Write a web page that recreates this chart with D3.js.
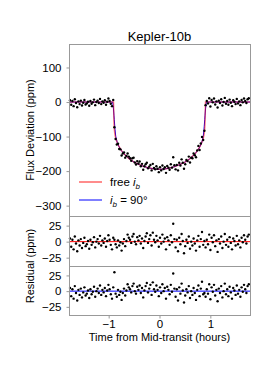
<!DOCTYPE html>
<html>
<head>
<title>Kepler-10b</title>
<script src="https://d3js.org/d3.v7.min.js"></script>
<style>
  body { margin: 0; background: #fff; }
  text { font-family: "Liberation Sans", Arial, sans-serif; fill: #000; }
</style>
</head>
<body>
<div id="chart"></div>
<script>
// sampling grid (hours from mid-transit)
var tStart = -1.76, cadence = 0.0236, nPts = 150;
var times = d3.range(nPts).map(i => tStart + i * cadence);

// observed flux deviation (ppm)
var flux = [5, -8, 3, -12, 8, -3, -15, 2, -6, 4, -10, -2, 6, -7, -4, 1, -11, 3, -5, -1,
  7, -9, 0, 4, -3, 9, -6, 2, -2, 5, -8, 1, 10, 3, -5, -12, 6, -73, -107, -123,
  -121, -136, -137, -155, -149, -146, -161, -156, -149, -158, -163, -170, -163, -161, -175, -181, -171, -178, -172, -186,
  -179, -196, -186, -180, -176, -192, -187, -182, -198, -179, -191, -195, -186, -193, -203, -189, -198, -184, -194, -189,
  -205, -185, -190, -196, -180, -190, -160, -183, -195, -182, -198, -176, -184, -166, -176, -193, -180, -168, -171, -158,
  -175, -161, -163, -149, -154, -160, -140, -127, -139, -120, -101, -110, -83, -9, 3, -4, 11, -13, 6, -1,
  10, -7, 2, -16, 4, -3, 8, -10, 0, 12, -5, 3, -8, 7, -2, -12, 5, 1, -6, 9,
  -4, 2, -9, 6, -1, 10, 3, -3, 8, 11];

// residuals against the free-inclination model (ppm)
var residFree = [5, -8, 3, -12, 8, -3, -15, 2, -6, 4, -10, -2, 6, -7, -4, 1, -11, 3, -5, -1,
  7, -9, 0, 4, -3, 9, -6, 2, -2, 5, -8, 1, 10, 3, -5, -12, 6, 3, -4, -9,
  2, -6, -1, -14, -3, 4, -7, 1, 11, 6, 3, -2, 8, 12, 0, -4, 7, 2, 9, -3,
  5, -10, 1, 8, 13, -2, 4, 10, -6, 14, 3, -1, 9, 2, -8, 6, -3, 11, 0, 5,
  -12, 7, 2, -5, 10, -1, 28, 4, -9, 3, -15, 6, -4, 12, 1, -18, -7, 3, -2, 8,
  -11, 0, -6, 5, -3, -14, 2, 9, -8, 4, 15, -5, 1, -9, 3, -4, 11, -13, 6, -1,
  10, -7, 2, -16, 4, -3, 8, -10, 0, 12, -5, 3, -8, 7, -2, -12, 5, 1, -6, 9,
  -4, 2, -9, 6, -1, 10, 3, -3, 8, 11];

// residuals against the i_b = 90 deg model (ppm)
var resid90 = [5, -8, 3, -12, 8, -3, -15, 2, -6, 4, -10, -2, 6, -7, -4, 1, -11, 3, -5, -1,
  7, -9, 0, 4, -3, 9, -6, 2, -2, 5, -8, 1, 10, 3, -5, -12, 6, 30, -4, -9,
  2, -6, -1, -14, -3, 4, -7, 1, 11, 6, 3, -2, 8, 12, 0, -4, 7, 2, 9, -3,
  5, -10, 1, 8, 13, -2, 4, 10, -6, 14, 3, -1, 9, 2, -8, 6, -3, 11, 0, 5,
  -12, 7, 2, -5, 10, -1, 28, 4, -9, 3, -15, 6, -4, 12, 1, -18, -7, 3, -2, 8,
  -11, 0, -6, 5, -3, -14, 2, 9, -8, 4, 15, -5, -3, -9, 3, -4, 11, -13, 6, -1,
  10, -7, 2, -16, 4, -3, 8, -10, 0, 12, -5, 3, -8, 7, -2, -12, 5, 1, -6, 9,
  -4, 2, -9, 6, -1, 10, 3, -3, 8, 11];

// model light curves
var modelT = [-1.78, -0.92, -0.905, -0.895, -0.89, -0.88, -0.875, -0.86, -0.83, -0.8, -0.75, -0.7, -0.6, -0.5, -0.4, -0.3, -0.2, -0.1, 0,
  0.1, 0.2, 0.3, 0.4, 0.5, 0.6, 0.7, 0.75, 0.8, 0.83, 0.86, 0.875, 0.88, 0.89, 0.895, 0.905, 0.92, 1.78];
var modelFree = [0, 0, 0, -60, -75, -90, -95, -105, -118, -128, -140, -150, -164, -174, -181, -187, -191, -194, -195,
  -194, -191, -187, -181, -174, -164, -150, -140, -128, -118, -105, -95, -90, -75, -60, 0, 0, 0];
var model90 = [0, 0, -20, -40, -50, -70, -80, -100, -118, -128, -140, -150, -164, -174, -181, -187, -191, -194, -195,
  -194, -191, -187, -181, -174, -164, -150, -140, -128, -118, -100, -80, -70, -50, -40, -20, 0, 0];

var mainTicks = [100, 0, -100, -200, -300];
var residTicks = [25, 0, -25];
var timeTicks = [-1, 0, 1];

var W = 278, H = 371;
var left = 69, right = 250;
var mainTop = 44, mainBot = 216, r1Bot = 266, r2Bot = 315;

var svg = d3.select("#chart").append("svg")
  .attr("width", W).attr("height", H);

var x = d3.scaleLinear().domain([-1.78, 1.78]).range([left, right]);
var yMain = d3.scaleLinear().domain([-330, 168]).range([mainBot, mainTop]);
var yR1 = d3.scaleLinear().domain([-38, 40]).range([r1Bot, mainBot]);
var yR2 = d3.scaleLinear().domain([-38, 40]).range([r2Bot, r1Bot]);

function frame(y0, y1) {
  svg.append("rect")
    .attr("x", left + 0.5).attr("y", y0 + 0.5)
    .attr("width", right - left).attr("height", y1 - y0)
    .attr("fill", "none").attr("stroke", "#999").attr("stroke-width", 1);
}

function yAxisAt(scale, ticks) {
  var g = svg.append("g")
    .attr("transform", "translate(" + (left + 0.5) + ",0)")
    .call(d3.axisLeft(scale).tickValues(ticks).tickSize(3).tickPadding(5));
  g.select(".domain").remove();
  g.selectAll(".tick line").attr("stroke", "#999");
  g.selectAll("text").style("font-size", "11.5px").style("font-family", "Liberation Sans, Arial, sans-serif");
}

// main panel
svg.append("path")
  .attr("d", d3.line().x((d, i) => x(modelT[i])).y(d => yMain(d))(model90))
  .attr("fill", "none").attr("stroke", "blue").attr("stroke-width", 1);
svg.append("path")
  .attr("d", d3.line().x((d, i) => x(modelT[i])).y(d => yMain(d))(modelFree))
  .attr("fill", "none").attr("stroke", "red").attr("stroke-opacity", 0.5).attr("stroke-width", 1.5);

svg.append("g").selectAll("circle")
  .data(flux).enter().append("circle")
  .attr("cx", (d, i) => x(times[i]))
  .attr("cy", d => yMain(d))
  .attr("r", 1.2).attr("fill", "#000");

// residual panels
svg.append("line")
  .attr("x1", x(-1.78)).attr("x2", x(1.78))
  .attr("y1", yR1(0)).attr("y2", yR1(0))
  .attr("stroke", "red").attr("stroke-width", 1);
svg.append("g").selectAll("circle")
  .data(residFree).enter().append("circle")
  .attr("cx", (d, i) => x(times[i]))
  .attr("cy", d => yR1(d))
  .attr("r", 1.2).attr("fill", "#000");

svg.append("line")
  .attr("x1", x(-1.78)).attr("x2", x(1.78))
  .attr("y1", yR2(0)).attr("y2", yR2(0))
  .attr("stroke", "blue").attr("stroke-width", 1);
svg.append("g").selectAll("circle")
  .data(resid90).enter().append("circle")
  .attr("cx", (d, i) => x(times[i]))
  .attr("cy", d => yR2(d))
  .attr("r", 1.2).attr("fill", "#000");

frame(mainTop, mainBot);
frame(mainBot, r1Bot);
frame(r1Bot, r2Bot);

yAxisAt(yMain, mainTicks);
yAxisAt(yR1, residTicks);
yAxisAt(yR2, residTicks);

var gx = svg.append("g")
  .attr("transform", "translate(0," + (r2Bot + 0.5) + ")")
  .call(d3.axisBottom(x).tickValues(timeTicks).tickFormat(d3.format("d")).tickSize(3).tickPadding(1));
gx.select(".domain").remove();
gx.selectAll(".tick line").attr("stroke", "#999");
gx.selectAll("text").style("font-size", "11.5px").style("font-family", "Liberation Sans, Arial, sans-serif");

// title & labels
svg.append("text").attr("x", (left + right) / 2).attr("y", 41)
  .attr("text-anchor", "middle").style("font-size", "13px").text("Kepler-10b");

svg.append("text").attr("x", (left + right) / 2).attr("y", 341)
  .attr("text-anchor", "middle").style("font-size", "11px").text("Time from Mid-transit (hours)");

svg.append("text")
  .attr("transform", "translate(34," + ((mainTop + mainBot) / 2) + ") rotate(-90)")
  .attr("text-anchor", "middle").style("font-size", "11px").text("Flux Deviation (ppm)");

svg.append("text")
  .attr("transform", "translate(34," + r1Bot + ") rotate(-90)")
  .attr("text-anchor", "middle").style("font-size", "11px").text("Residual (ppm)");

// legend
var lg = svg.append("g");
lg.append("line").attr("x1", 79).attr("x2", 102).attr("y1", 182).attr("y2", 182)
  .attr("stroke", "red").attr("stroke-opacity", 0.45).attr("stroke-width", 2);
var t1 = lg.append("text").attr("x", 110).attr("y", 186).style("font-size", "11.5px");
t1.append("tspan").text("free ");
t1.append("tspan").style("font-style", "italic").text("i");
t1.append("tspan").style("font-style", "italic").style("font-size", "8px").attr("dy", 2.5).text("b");

lg.append("line").attr("x1", 79).attr("x2", 102).attr("y1", 200).attr("y2", 200)
  .attr("stroke", "blue").attr("stroke-width", 1);
var t2 = lg.append("text").attr("x", 110).attr("y", 204).style("font-size", "11.5px");
t2.append("tspan").style("font-style", "italic").text("i");
t2.append("tspan").style("font-style", "italic").style("font-size", "8px").attr("dy", 2.5).text("b");
t2.append("tspan").attr("dy", -2.5).text(" = 90°");
</script>
</body>
</html>
